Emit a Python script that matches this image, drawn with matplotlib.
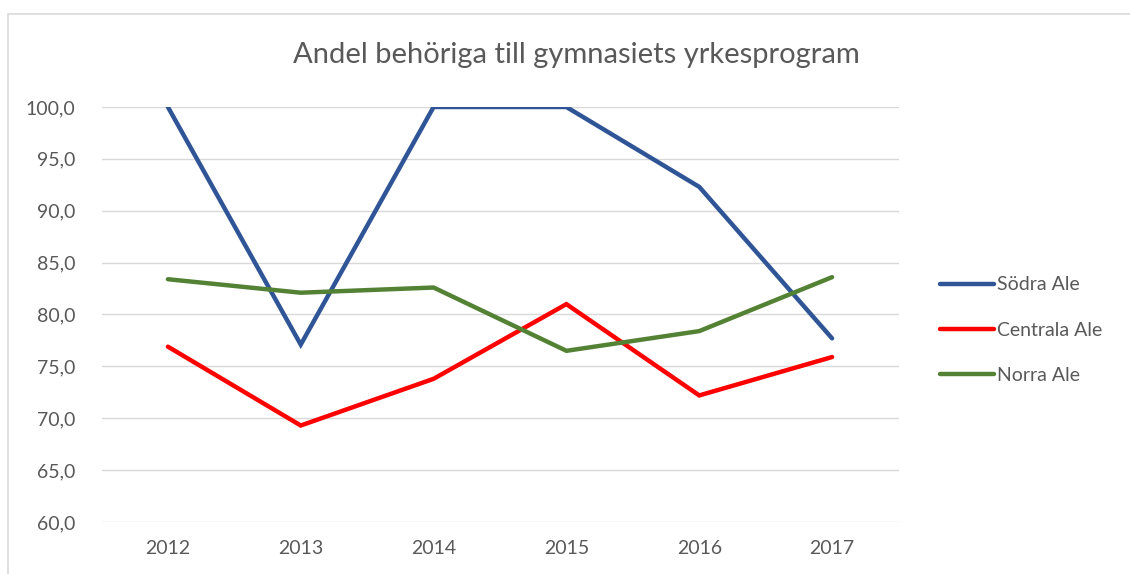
import matplotlib.pyplot as plt
from matplotlib.patches import Rectangle
from matplotlib.ticker import FuncFormatter

years = ['2012', '2013', '2014', '2015', '2016', '2017']
sodra = [100.0, 77.1, 100.0, 100.0, 92.3, 77.7]
centrala = [76.9, 69.3, 73.8, 81.0, 72.2, 75.9]
norra = [83.4, 82.1, 82.6, 76.5, 78.4, 83.6]
series_names = ['Södra Ale', 'Centrala Ale', 'Norra Ale']
colors = ['#2F5597', '#FF0000', '#548235']

plt.rcParams['font.family'] = ['Lato', 'DejaVu Sans']
txt = '#595959'

fig = plt.figure(figsize=(11.3, 5.74), dpi=100)
ax = fig.add_axes([101.5 / 1130, 1 - 522 / 574, 797 / 1130, 415 / 574])

# chart border (Excel style frame, cut off right/bottom)
fig.patches.append(Rectangle((8 / 1130, -0.1), 1.2, 1 - 14 / 574 + 0.1,
                             transform=fig.transFigure, fill=False,
                             edgecolor='#D9D9D9', lw=1.2))

x = range(len(years))
for vals, name, c in zip([sodra, centrala, norra], series_names, colors):
    ax.plot(x, vals, color=c, lw=3.2, label=name, solid_capstyle='round',
            solid_joinstyle='miter')

ax.set_xlim(-0.5, len(years) - 0.5)
ax.set_ylim(60, 100)
ax.set_yticks(range(60, 101, 5))
ax.yaxis.set_major_formatter(FuncFormatter(lambda v, p: f'{v:.1f}'.replace('.', ',')))
ax.set_xticks(list(x))
ax.set_xticklabels(years)
ax.grid(axis='y', color='#D9D9D9', lw=1)
ax.set_axisbelow(True)
for s in ax.spines.values():
    s.set_visible(False)
ax.tick_params(length=0, labelsize=14, colors=txt)
ax.tick_params(axis='y', pad=19)
ax.tick_params(axis='x', pad=13)

fig.text(576 / 1130, 1 - 55 / 574, 'Andel behöriga till gymnasiets yrkesprogram',
         ha='center', va='center', fontsize=21, color=txt)

leg = ax.legend(loc='center left', bbox_to_anchor=(922 / 1130, 1 - 330 / 574),
                bbox_transform=fig.transFigure, frameon=False, fontsize=14,
                handlelength=2.8, handletextpad=0.15, labelspacing=1.45,
                labelcolor=txt)

fig.savefig('out.png', dpi=100, facecolor='white')
